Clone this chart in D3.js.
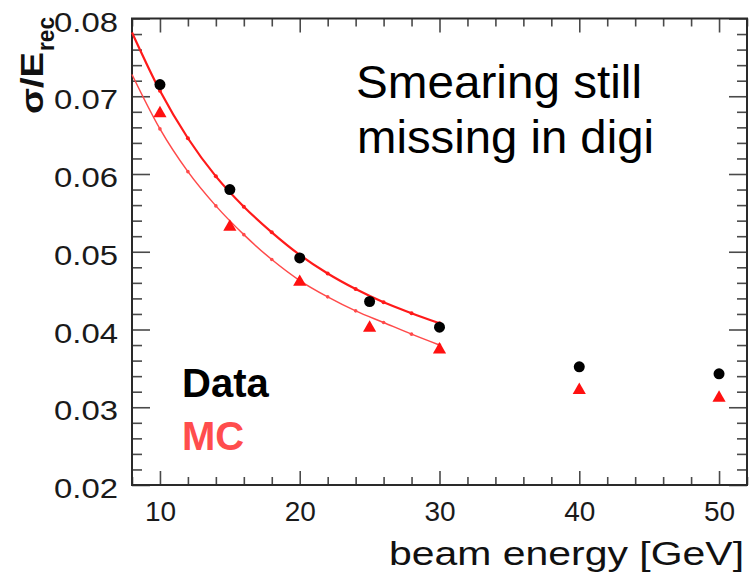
<!DOCTYPE html>
<html>
<head>
<meta charset="utf-8">
<script src="https://cdn.jsdelivr.net/npm/d3@7"></script>
<style>
  html, body { margin: 0; padding: 0; background: #fff; }
  svg { display: block; font-family: "Liberation Sans", Arial, Helvetica, sans-serif; }
</style>
</head>
<body>
<svg id="chart" width="751" height="574"></svg>
<script>
// Beam energies (GeV) and measured resolution sigma/E
const energies = [10, 15, 20, 25, 30, 40, 50];
const dataRes = [0.0715, 0.0580, 0.0492, 0.0436, 0.0403, 0.0352, 0.0343];
const mcRes   = [0.0678, 0.0532, 0.0461, 0.0402, 0.0374, 0.0322, 0.0312];

// Fitted resolution curves, sampled over 8-30 GeV
const fitEnergies = [8, 10, 12, 14, 16, 18, 20, 22, 24, 26, 28, 30];
const fitData = [0.0782, 0.0707, 0.0646, 0.0597, 0.0558, 0.0525, 0.0496, 0.0472, 0.0452, 0.0435, 0.0421, 0.0408];
const fitMC   = [0.0728, 0.0658, 0.0603, 0.0559, 0.0522, 0.0490, 0.0463, 0.0442, 0.0424, 0.0409, 0.0394, 0.0380];

// Axis ticks
const xMajor = [10, 20, 30, 40, 50];
const xMinor = [8, 12, 14, 16, 18, 22, 24, 26, 28, 32, 34, 36, 38, 42, 44, 46, 48, 52];
const yMajor = [0.02, 0.03, 0.04, 0.05, 0.06, 0.07, 0.08];
const yMinor = [0.022, 0.024, 0.026, 0.028, 0.032, 0.034, 0.036, 0.038,
                0.042, 0.044, 0.046, 0.048, 0.052, 0.054, 0.056, 0.058,
                0.062, 0.064, 0.066, 0.068, 0.072, 0.074, 0.076, 0.078];

const plotLeft = 132, plotRight = 747, plotTop = 18.5, plotBottom = 485;

const svg = d3.select("#chart");
const x = d3.scaleLinear().domain([8, 52]).range([plotLeft, plotRight]);
const y = d3.scaleLinear().domain([0.02, 0.08]).range([plotBottom, plotTop]);

const tickColor = "#4a4a4a";

function styleAxis(g) {
  g.select(".domain").remove();
  g.selectAll(".tick line").attr("stroke", tickColor).attr("stroke-width", 1.6);
}

// Bottom axis: inward ticks with labels
svg.append("g").attr("transform", `translate(0,${plotBottom})`)
  .call(d3.axisBottom(x).tickValues(xMajor).tickSize(-14).tickPadding(16).tickFormat(d3.format("d")))
  .call(styleAxis)
  .call(g => g.selectAll("text").attr("font-size", 28).attr("fill", "#1a1a1a")
    .attr("font-family", "Liberation Sans, Arial, sans-serif"));
svg.append("g").attr("transform", `translate(0,${plotBottom})`)
  .call(d3.axisBottom(x).tickValues(xMinor).tickSize(-8).tickFormat(""))
  .call(styleAxis);

// Top axis: ticks only
svg.append("g").attr("transform", `translate(0,${plotTop})`)
  .call(d3.axisTop(x).tickValues(xMajor).tickSize(-14).tickFormat(""))
  .call(styleAxis);
svg.append("g").attr("transform", `translate(0,${plotTop})`)
  .call(d3.axisTop(x).tickValues(xMinor).tickSize(-8).tickFormat(""))
  .call(styleAxis);

// Left axis with labels
svg.append("g").attr("transform", `translate(${plotLeft},0)`)
  .call(d3.axisLeft(y).tickValues(yMajor).tickSize(-18).tickPadding(14).tickFormat(d3.format(".2f")))
  .call(styleAxis)
  .call(g => g.selectAll("text").attr("font-size", 28).attr("fill", "#1a1a1a")
    .attr("dy", "0.45em")
    .attr("textLength", 64).attr("lengthAdjust", "spacingAndGlyphs")
    .attr("font-family", "Liberation Sans, Arial, sans-serif"));
svg.append("g").attr("transform", `translate(${plotLeft},0)`)
  .call(d3.axisLeft(y).tickValues(yMinor).tickSize(-10).tickFormat(""))
  .call(styleAxis);

// Right axis: ticks only
svg.append("g").attr("transform", `translate(${plotRight},0)`)
  .call(d3.axisRight(y).tickValues(yMajor).tickSize(-18).tickFormat(""))
  .call(styleAxis);
svg.append("g").attr("transform", `translate(${plotRight},0)`)
  .call(d3.axisRight(y).tickValues(yMinor).tickSize(-10).tickFormat(""))
  .call(styleAxis);

// Frame
svg.append("rect")
  .attr("x", plotLeft).attr("y", plotTop)
  .attr("width", plotRight - plotLeft).attr("height", plotBottom - plotTop)
  .attr("fill", "none").attr("stroke", "#2a2a2a").attr("stroke-width", 2);

// Fit curves
const line = d3.line()
  .x(d => x(d[0])).y(d => y(d[1]))
  .curve(d3.curveMonotoneX);

const fitDataPts = fitEnergies.map((e, i) => [e, fitData[i]]);
const fitMCPts = fitEnergies.map((e, i) => [e, fitMC[i]]);

svg.append("path").datum(fitMCPts)
  .attr("d", line).attr("fill", "none")
  .attr("stroke", "#ff4a4a").attr("stroke-width", 1.5);
svg.append("path").datum(fitDataPts)
  .attr("d", line).attr("fill", "none")
  .attr("stroke", "#ff1a1a").attr("stroke-width", 2.2);

svg.append("g").selectAll("circle").data(fitMCPts.slice(1)).join("circle")
  .attr("cx", d => x(d[0])).attr("cy", d => y(d[1])).attr("r", 1.8).attr("fill", "#ff4a4a");
svg.append("g").selectAll("circle").data(fitDataPts.slice(1)).join("circle")
  .attr("cx", d => x(d[0])).attr("cy", d => y(d[1])).attr("r", 2).attr("fill", "#ff1a1a");

// MC points (triangles)
const tri = d3.symbol().type(d3.symbolTriangle).size(75);
svg.append("g").selectAll("path").data(energies).join("path")
  .attr("d", tri)
  .attr("transform", (d, i) => `translate(${x(d)},${y(mcRes[i])})`)
  .attr("fill", "#ff1010");

// Data points (circles)
svg.append("g").selectAll("circle").data(energies).join("circle")
  .attr("cx", d => x(d)).attr("cy", (d, i) => y(dataRes[i]))
  .attr("r", 5.5).attr("fill", "#000");

// Axis titles
svg.append("text")
  .attr("x", 744).attr("y", 565)
  .attr("text-anchor", "end")
  .attr("font-size", 33).attr("fill", "#111")
  .attr("textLength", 355).attr("lengthAdjust", "spacingAndGlyphs")
  .text("beam energy [GeV]");

svg.append("text")
  .attr("transform", "translate(43,114) rotate(-90)")
  .attr("font-size", 32).attr("font-weight", "bold").attr("fill", "#111")
  .attr("textLength", 62).attr("lengthAdjust", "spacingAndGlyphs")
  .text("σ/E");
svg.append("text")
  .attr("transform", "translate(54,51) rotate(-90)")
  .attr("font-size", 24).attr("font-weight", "bold").attr("fill", "#111")
  .attr("textLength", 34).attr("lengthAdjust", "spacingAndGlyphs")
  .text("rec");

// Annotation
const note = svg.append("text")
  .attr("font-size", 47).attr("fill", "#000");
note.append("tspan").attr("x", 356).attr("y", 98)
  .attr("textLength", 286).attr("lengthAdjust", "spacingAndGlyphs")
  .text("Smearing still");
note.append("tspan").attr("x", 357).attr("y", 153)
  .attr("textLength", 297).attr("lengthAdjust", "spacingAndGlyphs")
  .text("missing in digi");

// Legend labels
svg.append("text").attr("x", 182).attr("y", 397)
  .attr("font-size", 40).attr("font-weight", "bold").attr("fill", "#000")
  .text("Data");
svg.append("text").attr("x", 182).attr("y", 450)
  .attr("font-size", 40).attr("font-weight", "bold").attr("fill", "#ff4d4d")
  .text("MC");
</script>
</body>
</html>
